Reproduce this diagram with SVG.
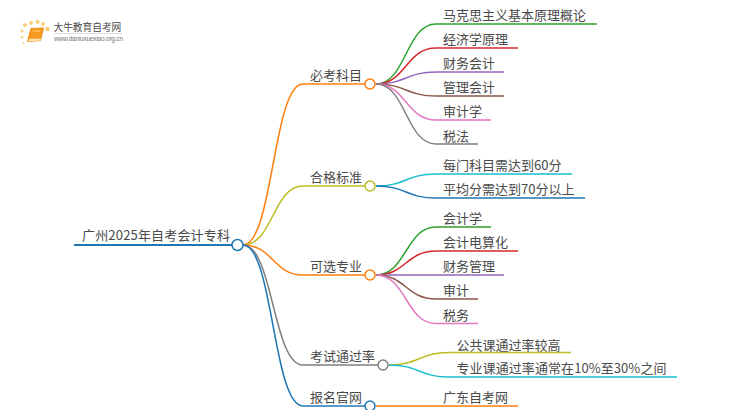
<svg xmlns="http://www.w3.org/2000/svg" width="750" height="410" viewBox="0 0 750 410">
<style>
text{font-family:"Noto Sans CJK SC","Liberation Sans",sans-serif;font-size:13px;fill:#4a4a4a}
.l{fill:none;stroke-width:1.500}
.c{fill:#fff;stroke-width:1.500}
.o{stroke:#ff7f0e}.b{stroke:#1f77b4}.g{stroke:#2ca02c}.r{stroke:#d62728}.p{stroke:#9467bd}.n{stroke:#8c564b}.k{stroke:#e377c2}.y{stroke:#7f7f7f}.v{stroke:#bcbd22}.t{stroke:#17becf}
.d{fill:#fbcf7a}
</style>
<rect width="750" height="410" fill="#fff"/>
<g id="logo">
<circle class="d" cx="25" cy="25" r="2"/><circle class="d" cx="31" cy="23" r="2"/><circle class="d" cx="37.500" cy="22" r="2"/><circle class="d" cx="43" cy="24" r="2"/><circle class="d" cx="47.500" cy="29" r="2.300"/><circle class="d" cx="22" cy="31" r="1.500"/><circle class="d" cx="22" cy="37" r="1.300"/><circle class="d" cx="23.500" cy="43" r="1"/>
<path d="M31 28.500L43.500 28L40.500 40.500L27.500 41.500Z" fill="#f59a1e" stroke="#f08c10" stroke-width="1" stroke-linejoin="round"/><path d="M27.500 41.500L40.500 40.500L41 38.500L29 39Z" fill="#fde0b0"/><path d="M33 31H40" stroke="#fcd08a" stroke-width="1"/>
<text x="53.500" y="30.500" style="font-size:9.700px">大牛教育自考网</text>
<path d="M54 33.500H122" stroke="#ddd" stroke-width="1"/>
<text x="54" y="41" textLength="69" style="font-size:6.500px;fill:#777;font-family:'Liberation Sans',sans-serif">www.daniuxuexiao.org.cn</text>
</g>
<g id="connectors">
<path class="l b" style="stroke-width:2.200" d="M74 245H238"/>
<path class="l o" d="M243 245C273 245 273 84 303 84H370"/>
<path class="l v" d="M243 245C273 245 273 186 303 186H370"/>
<path class="l o" d="M243 245C273 245 273 275 303 275H370"/>
<path class="l y" d="M243 245C273 245 273 365 303 365H383"/>
<path class="l b" d="M243 245C273 245 273 406 303 406H370"/>
<path class="l g" d="M376 84C406 84 406 24 436 24H597"/>
<path class="l r" d="M376 84C406 84 406 48 436 48H518"/>
<path class="l p" d="M376 84C406 84 406 72 436 72H504"/>
<path class="l n" d="M376 84C406 84 406 96 436 96H504"/>
<path class="l k" d="M376 84C406 84 406 120 436 120H491"/>
<path class="l y" d="M376 84C406 84 406 144 436 144H478"/>
<path class="l t" d="M376 186C406 186 406 174 436 174H572"/>
<path class="l b" d="M376 186C406 186 406 198 436 198H585"/>
<path class="l g" d="M376 275C406 275 406 227 436 227H491"/>
<path class="l r" d="M376 275C406 275 406 251 436 251H518"/>
<path class="l p" d="M376 275H504"/>
<path class="l n" d="M376 275C406 275 406 299 436 299H478"/>
<path class="l k" d="M376 275C406 275 406 323.500 436 323.500H478"/>
<path class="l v" d="M389 365C419 365 419 352.500 449 352.500H571"/>
<path class="l t" d="M389 365C419 365 419 377 449 377H677"/>
<path class="l o" d="M376 406H518"/>
</g>
<g id="root"><circle class="c b" cx="237.500" cy="245" r="5.500"/><text x="82" y="240" textLength="148">广州2025年自考会计专科</text></g>
<g id="n1"><circle class="c o" cx="370" cy="84" r="5"/><text x="310" y="80">必考科目</text></g>
<g id="n2"><circle class="c v" cx="370" cy="186" r="5"/><text x="310" y="182">合格标准</text></g>
<g id="n3"><circle class="c o" cx="370" cy="275" r="5"/><text x="310" y="271">可选专业</text></g>
<g id="n4"><circle class="c y" cx="383" cy="365" r="5"/><text x="310" y="361">考试通过率</text></g>
<g id="n5"><circle class="c b" cx="370" cy="406" r="5"/><text x="310" y="402">报名官网</text></g>
<g id="leaves">
<text x="443" y="20">马克思主义基本原理概论</text>
<text x="443" y="44">经济学原理</text>
<text x="443" y="68">财务会计</text>
<text x="443" y="92">管理会计</text>
<text x="443" y="116">审计学</text>
<text x="443" y="141">税法</text>
<text x="443" y="170">每门科目需达到60分</text>
<text x="443" y="194">平均分需达到70分以上</text>
<text x="443" y="223">会计学</text>
<text x="443" y="247">会计电算化</text>
<text x="443" y="271">财务管理</text>
<text x="443" y="295">审计</text>
<text x="443" y="320">税务</text>
<text x="456.500" y="350">公共课通过率较高</text>
<text x="456.500" y="373" textLength="210">专业课通过率通常在10%至30%之间</text>
<text x="443" y="402">广东自考网</text>
</g>
</svg>
